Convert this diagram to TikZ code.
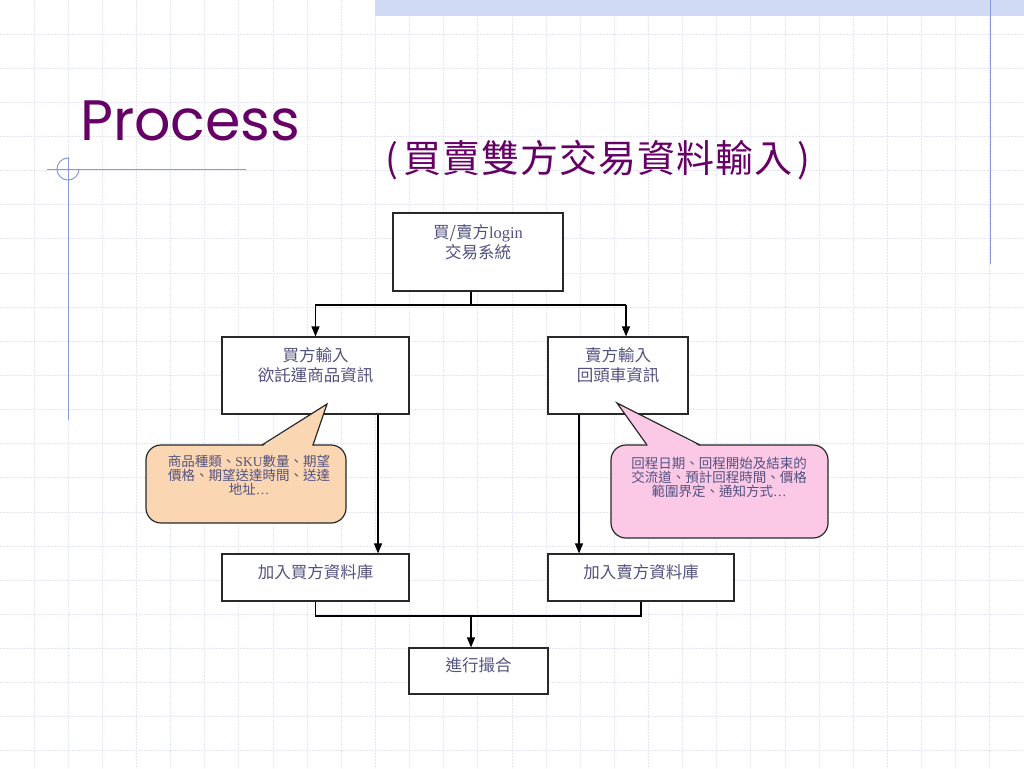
\documentclass[tikz,border=0pt]{standalone}
\usepackage{fontspec}
\setmainfont{Liberation Serif}
\newfontfamily\cjk{Noto Sans CJK TC}
\newfontfamily\titlefont{Poppins}
\usetikzlibrary{arrows.meta}
\definecolor{gridc}{RGB}{228,230,246}
\definecolor{bandc}{RGB}{208,218,244}
\definecolor{decoblue}{RGB}{135,152,222}
\definecolor{titlepurple}{RGB}{102,0,102}
\definecolor{slate}{RGB}{82,82,128}
\definecolor{boxline}{RGB}{40,40,40}
\definecolor{peach}{RGB}{251,214,178}
\definecolor{pinkc}{RGB}{251,200,230}
\tikzset{
  gridline/.style={draw=gridc, line width=1pt, dash pattern=on 2pt off 1pt},
  deco/.style={draw=decoblue, line width=1pt},
  box/.style={draw=boxline, line width=1.2pt, fill=white, inner sep=0pt},
  boxtxt/.style={text=slate, align=center, inner sep=0pt, font=\cjk\fontsize{16.5}{20}\selectfont},
  calltxt/.style={text=slate, align=center, inner sep=0pt, font=\cjk\fontsize{13.5}{14}\selectfont},
  conn/.style={draw=black, line width=1.2pt},
  arr/.style={conn, -{Triangle[length=10pt,width=8pt]}},
  callshape/.style={draw=boxline, line width=1.2pt, rounded corners=15pt},
  callline/.style={draw=boxline, line width=1.2pt, line join=miter},
}
\begin{document}
\begin{tikzpicture}[x=1pt,y=-1pt]
\useasboundingbox (0,0) rectangle (1024,768);
\fill[white] (0,0) rectangle (1024,768);
% grid
\foreach \k in {1,...,29} \draw[gridline] (34.133*\k,0) -- (34.133*\k,768);
\foreach \k in {1,...,22} \draw[gridline] (0,34.133*\k) -- (1024,34.133*\k);
% top band
\fill[bandc] (375,0) rectangle (1024,16);
% decorative lines
\draw[deco] (990,0) -- (990,264);
\draw[deco] (47,169) -- (246,169);
\draw[deco] (68,157) -- (68,420);
\draw[deco] (79,169) arc[start angle=0,end angle=270,radius=11];
% titles
\node[anchor=base west, inner sep=0pt, text=titlepurple, font=\titlefont\fontsize{57}{60}\selectfont] (title) at (80,140) {Process};
\node[anchor=west, inner sep=0pt, text=titlepurple, font=\cjk\fontsize{38}{40}\selectfont] (subtitle) at (385,160)
 {(\hspace{5pt}買\hspace{1pt}賣\hspace{1pt}雙\hspace{1pt}方\hspace{1pt}交\hspace{1pt}易\hspace{1pt}資\hspace{1pt}料\hspace{1pt}輸\hspace{1pt}入\hspace{5pt})};
% boxes
\node[box, minimum width=170pt, minimum height=78pt] (login) at (478,252) {};
\node[box, minimum width=187pt, minimum height=77pt] (buyer) at (315.5,375.5) {};
\node[box, minimum width=140pt, minimum height=77pt] (seller) at (618,375.5) {};
\node[box, minimum width=187pt, minimum height=47pt] (buyerdb) at (315.5,577.5) {};
\node[box, minimum width=186pt, minimum height=47pt] (sellerdb) at (641,577.5) {};
\node[box, minimum width=139pt, minimum height=46pt] (match) at (478.5,671) {};
% box texts
\node[boxtxt] (logintxt) at (478,242) {買/賣方{\rmfamily login}\\交易系統};
\node[boxtxt] (buyertxt) at (315.5,365) {買方輸入\\欲託運商品資訊};
\node[boxtxt] (sellertxt) at (618,365) {賣方輸入\\回頭車資訊};
\node[boxtxt] (buyerdbtxt) at (315.5,572) {加入買方資料庫};
\node[boxtxt] (sellerdbtxt) at (641,572) {加入賣方資料庫};
\node[boxtxt] (matchtxt) at (478.5,665) {進行撮合};
% connectors
\coordinate (j1) at (471,305);
\coordinate (s1) at (626,305);
\coordinate (bx) at (378,0);
\coordinate (sx) at (579,0);
\coordinate (j2) at (471,616);
\draw[conn] (login.south -| j1) -- (j1);
\draw[arr] (j1) -| (buyer.north);
\draw[conn] (j1) -- (s1);
\draw[arr] (s1) -- (seller.north -| s1);
\draw[arr] (buyer.south -| bx) -- (buyerdb.north -| bx);
\draw[arr] (seller.south -| sx) -- (sellerdb.north -| sx);
\draw[conn] (buyerdb.south) |- (j2) -| (sellerdb.south);
\draw[arr] (j2) -- (match.north -| j2);
% callouts
\draw[callshape, fill=peach] (146,445) rectangle (346,523);
\fill[peach] (263,446) -- (327,404) -- (312,446) -- cycle;
\draw[callline] (262,445) -- (327,404) -- (313,445);
\draw[callshape, fill=pinkc] (611,445) rectangle (828,538);
\fill[pinkc] (648,446) -- (617,403) -- (699,446) -- cycle;
\draw[callline] (647,445) -- (617,403) -- (700,445);
\node[calltxt] (orangetxt) at (249,475) {商品種類、{\rmfamily SKU}數量、期望\\價格、期望送達時間、送達\\地址{\rmfamily …}};
\node[calltxt] (pinktxt) at (719,477) {回程日期、回程開始及結束的\\交流道、預計回程時間、價格\\範圍界定、通知方式{\rmfamily …}};
\end{tikzpicture}
\end{document}
